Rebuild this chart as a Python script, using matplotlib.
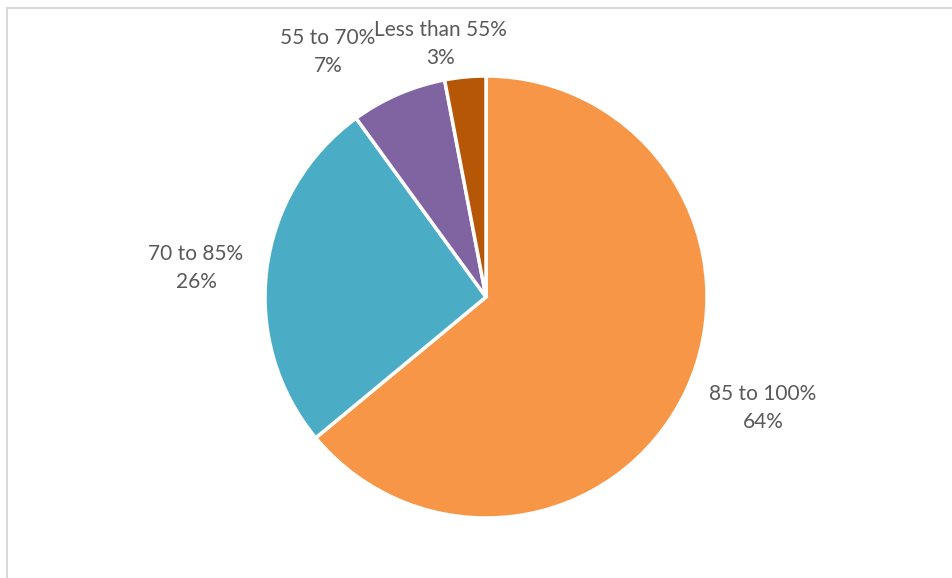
import matplotlib.pyplot as plt
from matplotlib.patches import Rectangle

labels = ['85 to 100%', '70 to 85%', '55 to 70%', 'Less than 55%']
shares = [64, 26, 7, 3]
colors = ['#F79646', '#4BACC6', '#8064A2', '#B65708']
# label centres in pie units (radius = 1)
label_pos = [(1.253, -0.502), (-1.312, 0.131), (-0.715, 1.109), (-0.204, 1.145)]

W, H = 952, 578
fig = plt.figure(figsize=(W / 100, H / 100), dpi=100)

# pie centred at (486, 297) px, radius 221 px
cx, cy, r = 486, 297, 221
ax = fig.add_axes([(cx - r) / W, (H - cy - r) / H, 2 * r / W, 2 * r / H])
ax.pie(shares, colors=colors, startangle=90, counterclock=False,
       wedgeprops=dict(edgecolor='white', linewidth=2.5))
ax.set_xlim(-1, 1)
ax.set_ylim(-1, 1)
ax.axis('off')

for lab, val, (x, y) in zip(labels, shares, label_pos):
    ax.text(x, y, f'{lab}\n{val}%', ha='center', va='center', fontsize=15,
            color='#595959', family='Lato', linespacing=1.55, clip_on=False)

# chart area border (runs off the right and bottom edges)
fig.patches.append(Rectangle((6.5 / W, -0.1), 1.2, (H - 8.5) / H + 0.1,
                             transform=fig.transFigure, fill=False,
                             edgecolor='#D9D9D9', linewidth=1.5))

fig.savefig('out.png', dpi=100)
